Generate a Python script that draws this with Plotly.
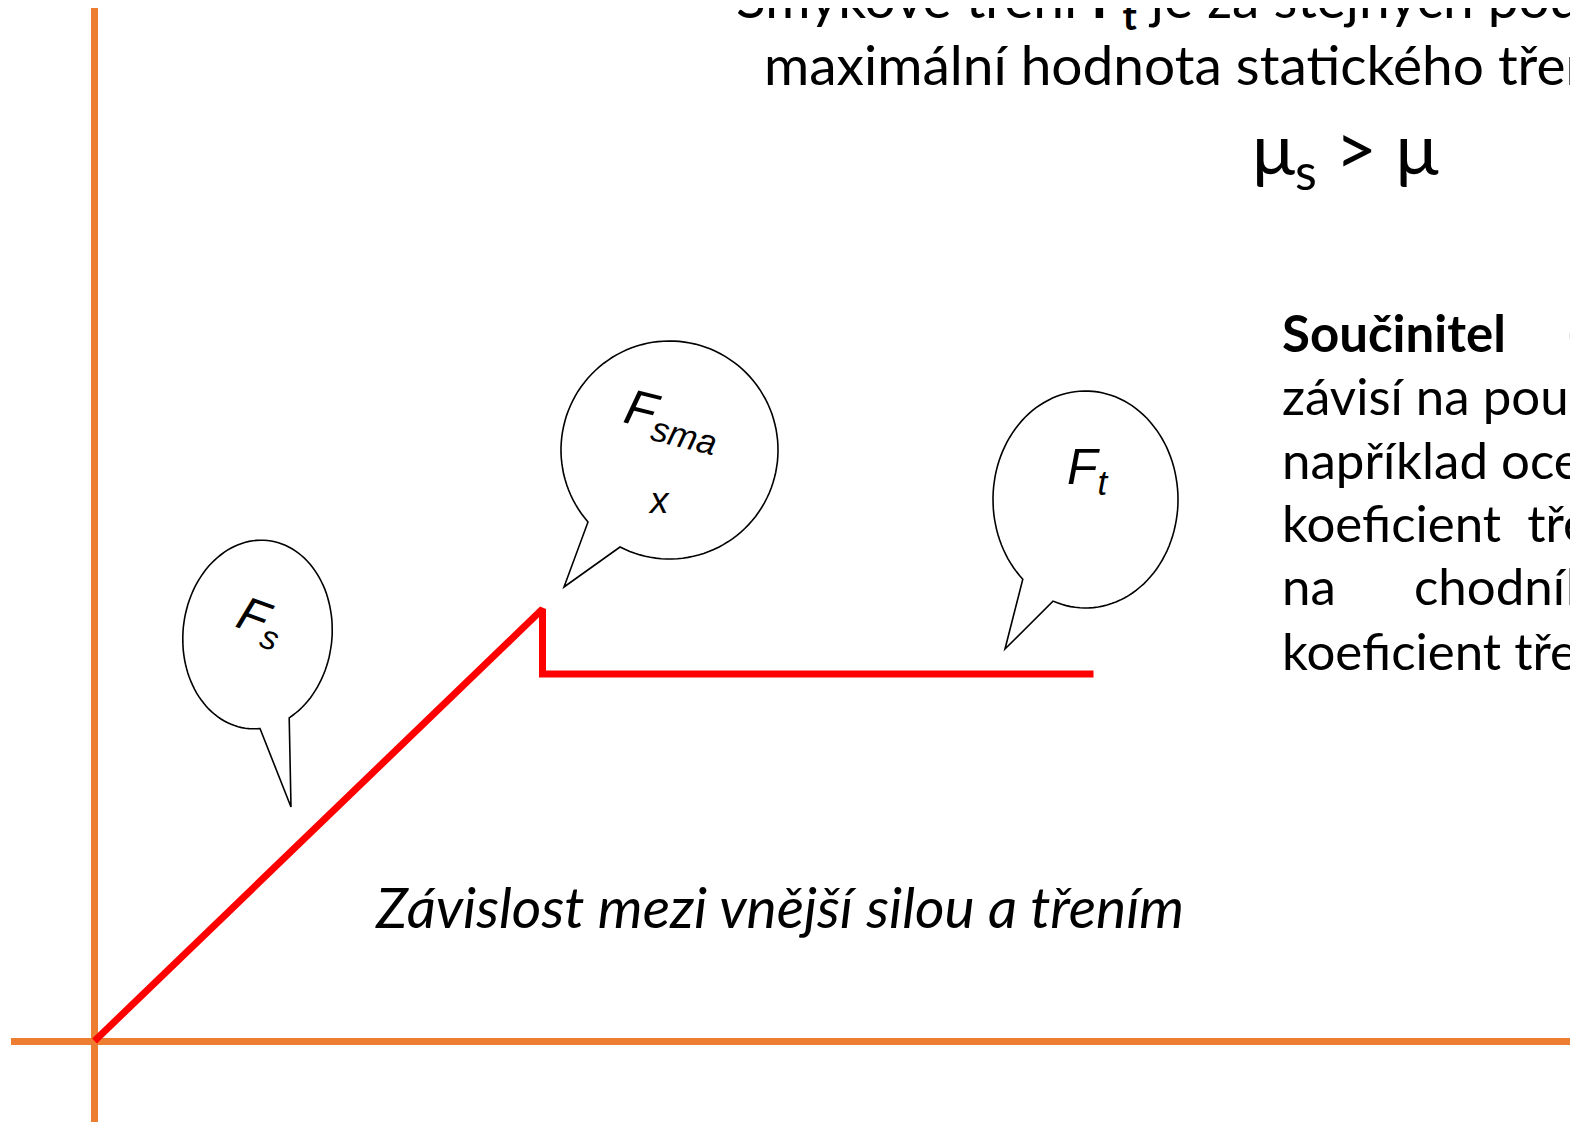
import numpy as np
import plotly.graph_objects as go

# friction curve: applied force (x) vs friction (y), pixel-like units from the origin
force = [0, 448, 448, 999]
friction = [0, 432, 367, 367]

bubble_labels = ["F<sub>s</sub>", "F<sub>sma</sub>", "F<sub>t</sub>"]
bubble_extra = "x"

caption = "Závislost mezi vnější silou a třením"
top_line1 = "Smykové tření <b>F<sub>t</sub></b> je za stejných podmínek menší než"
top_line2 = "maximální hodnota statického tření"
formula = "μ<sub>s</sub> > μ"
para_first = ["<b>Součinitel</b>", "závisí na použitých materiálech,", "například ocel na ledu má",
              "koeficient\u00a0\u00a0tření", "na", "koeficient tření"]
para_second = ["<b>(smykového)</b>", "", "", "", "chodníku", ""]

# page is offset by the 8px body margin
OFF = 8
PW, PH = 1578, 1122
W, H = PW - OFF, PH - OFF
ML = 11            # page x where the plot area starts
OX, OY = 94.5, 1041   # page position of the origin

ORANGE = "#ED7D31"
SLIDE_FONT = "Lato, Carlito, Calibri, sans-serif"
ARIAL = "Liberation Sans, Arial, sans-serif"


def dx(px):
    return px - OX


def dy(py):
    return OY - py


def paper_x(px):
    return (px - ML) / (PW - ML)


def paper_y(py):
    return (PH - py) / (PH - OFF)


def bubble_path(cx, cy, rx, ry, tilt, b1, b2, tip):
    phi = np.radians(tilt)

    def ang(p):
        x, y = p[0] - cx, p[1] - cy
        xr = x * np.cos(phi) + y * np.sin(phi)
        yr = -x * np.sin(phi) + y * np.cos(phi)
        return np.arctan2(yr / ry, xr / rx)

    a1, a2 = ang(b1), ang(b2)
    d = (a2 - a1) % (2 * np.pi)
    if d < np.pi:
        t = np.linspace(a2, a1 + 2 * np.pi, 120)
    else:
        t = np.linspace(a1, a2 + 2 * np.pi, 120)
    ex = rx * np.cos(t)
    ey = ry * np.sin(t)
    px = cx + ex * np.cos(phi) - ey * np.sin(phi)
    py = cy + ex * np.sin(phi) + ey * np.cos(phi)
    pts = [(dx(x), dy(y)) for x, y in zip(px, py)]
    pts.append((dx(tip[0]), dy(tip[1])))
    path = "M " + " L ".join(f"{x:.1f},{y:.1f}" for x, y in pts) + " Z"
    return path


fig = go.Figure()

fig.add_trace(go.Scatter(
    x=force, y=friction, mode="lines",
    line=dict(color="#FF0000", width=7),
    hoverinfo="skip", showlegend=False
))

# speech bubbles
bubbles = [
    dict(cx=257.5, cy=634.5, rx=74.5, ry=94.5, tilt=6, b1=(260, 727), b2=(287, 712), tip=(291, 807)),
    dict(cx=669.5, cy=450, rx=108.5, ry=109, tilt=0, b1=(588, 522), b2=(620, 547), tip=(564, 587)),
    dict(cx=1085.5, cy=499.5, rx=92.5, ry=108.5, tilt=0, b1=(1023, 579), b2=(1053, 601), tip=(1005, 649)),
]
for b in bubbles:
    fig.add_shape(type="path", xref="x", yref="y",
                  path=bubble_path(b["cx"], b["cy"], b["rx"], b["ry"], b["tilt"], b["b1"], b["b2"], b["tip"]),
                  fillcolor="white", line=dict(color="black", width=1.6), layer="above")

label_pos = [(260, 622, 20, 48), (672, 420, 14, 50), (1088, 470, 0, 50)]
for lab, (x, y, ang, size) in zip(bubble_labels, label_pos):
    fig.add_annotation(x=dx(x), y=dy(y), xref="x", yref="y", text="<i>" + lab + "</i>",
                       showarrow=False, textangle=ang, xanchor="center", yanchor="middle",
                       font=dict(family=ARIAL, size=size, color="black"))
fig.add_annotation(x=dx(659), y=dy(500), xref="x", yref="y", text="<i>" + bubble_extra + "</i>",
                   showarrow=False, xanchor="center", yanchor="middle",
                   font=dict(family=ARIAL, size=37, color="black"))

# slide text
fig.add_annotation(x=paper_x(373), y=paper_y(906), xref="paper", yref="paper",
                   text="<i>" + caption + "</i>", showarrow=False,
                   xanchor="left", yanchor="middle", font=dict(family=SLIDE_FONT, size=57, color="black"))
fig.add_annotation(x=paper_x(734), y=paper_y(1), xref="paper", yref="paper",
                   text=top_line1, showarrow=False,
                   xanchor="left", yanchor="middle", font=dict(family=SLIDE_FONT, size=55, color="black"))
fig.add_annotation(x=paper_x(762), y=paper_y(64), xref="paper", yref="paper",
                   text=top_line2, showarrow=False,
                   xanchor="left", yanchor="middle", font=dict(family=SLIDE_FONT, size=55, color="black"))
fig.add_annotation(x=paper_x(1250), y=paper_y(152), xref="paper", yref="paper",
                   text=formula, showarrow=False,
                   xanchor="left", yanchor="middle", font=dict(family=SLIDE_FONT, size=72, color="black"))

line_y = [332, 395, 459, 522, 586, 650]
second_x = [1566, None, None, None, 1412, None]
for first, second, y, sx in zip(para_first, para_second, line_y, second_x):
    fig.add_annotation(x=paper_x(1280), y=paper_y(y), xref="paper", yref="paper",
                       text=first, showarrow=False, xanchor="left", yanchor="middle",
                       font=dict(family=SLIDE_FONT, size=51, color="black"))
    if second:
        fig.add_annotation(x=paper_x(sx), y=paper_y(y), xref="paper", yref="paper",
                           text=second, showarrow=False, xanchor="left", yanchor="middle",
                           font=dict(family=SLIDE_FONT, size=51, color="black"))

fig.update_layout(
    width=W, height=H,
    margin=dict(l=ML - OFF, r=0, t=0, b=0, pad=0),
    plot_bgcolor="white", paper_bgcolor="white",
    showlegend=False,
    xaxis=dict(range=[ML - OX, PW - OX], showgrid=False, showticklabels=False, ticks="",
               zeroline=True, zerolinecolor=ORANGE, zerolinewidth=7, fixedrange=True),
    yaxis=dict(range=[OY - PH, OY - OFF], showgrid=False, showticklabels=False, ticks="",
               zeroline=True, zerolinecolor=ORANGE, zerolinewidth=7, fixedrange=True),
)

fig.write_html("out.html")
